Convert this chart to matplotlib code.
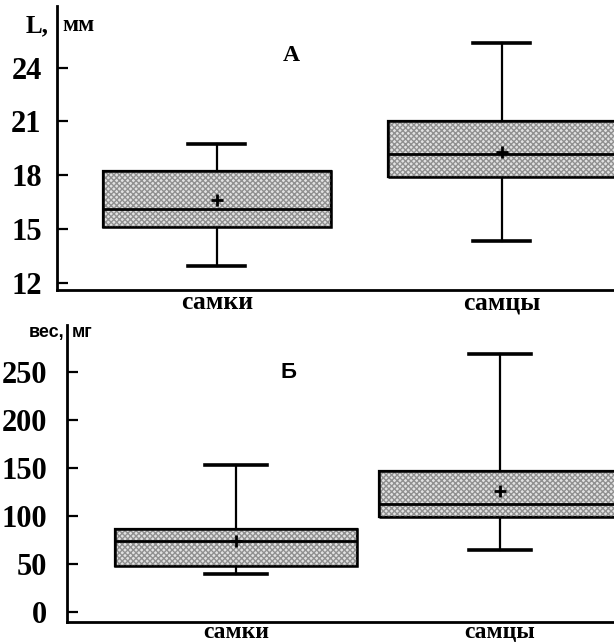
import matplotlib
matplotlib.use("Agg")
import matplotlib.pyplot as plt
from matplotlib.patches import PathPatch

groups = ["самки", "самцы"]

# panel A: length, mm
len_whislo = [12.94, 14.33]
len_q1 = [15.11, 17.89]
len_med = [16.11, 19.17]
len_q3 = [18.22, 21.0]
len_whishi = [19.72, 25.39]
len_mean = [16.61, 19.28]

# panel Б: weight, mg
w_whislo = [40, 64.6]
w_q1 = [48, 99]
w_med = [73.5, 112.5]
w_q3 = [86.5, 147]
w_whishi = [153, 268.8]
w_mean = [74, 126]

SERIF = "Liberation Serif"
SANS = "Liberation Sans"


def stats(lo, q1, med, q3, hi, mean):
    return [dict(whislo=a, q1=b, med=c, q3=d, whishi=e, mean=f, fliers=[])
            for a, b, c, d, e, f in zip(lo, q1, med, q3, hi, mean)]


def panel(ax, st, width, capw, ylim, yticks, tickpad, xfs, xpad):
    bp = ax.bxp(st, positions=[1, 2], widths=width, capwidths=capw,
                patch_artist=True, showmeans=True, showfliers=False,
                boxprops=dict(facecolor="#e2e2e2", edgecolor="black", linewidth=1.6),
                medianprops=dict(color="black", linewidth=2.0, zorder=4),
                whiskerprops=dict(color="black", linewidth=1.6),
                capprops=dict(color="black", linewidth=2.6),
                meanprops=dict(marker="+", markersize=9, markeredgewidth=2.0,
                               markeredgecolor="black", zorder=5))
    for box in bp["boxes"]:
        ax.add_patch(PathPatch(box.get_path(), facecolor="none", edgecolor="#909090",
                               hatch="xxxxxx", lw=0, zorder=2.5))
        ax.add_patch(PathPatch(box.get_path(), facecolor="none", edgecolor="black",
                               lw=1.8, zorder=3))
    ax.set_ylim(*ylim)
    ax.set_yticks(yticks)
    for s in ("top", "right"):
        ax.spines[s].set_visible(False)
    for s in ("left", "bottom"):
        ax.spines[s].set_linewidth(2.0)
    ax.tick_params(axis="y", direction="in", length=8, width=1.6, pad=tickpad)
    ax.tick_params(axis="x", length=0, pad=xpad)
    ax.set_xticks([1, 2])
    ax.set_xticklabels(groups, fontfamily=SERIF, fontweight="bold", fontsize=xfs)
    for t in ax.get_yticklabels():
        t.set_fontfamily(SERIF)
        t.set_fontweight("bold")
        t.set_fontsize(22)


fig = plt.figure(figsize=(6.14, 6.43), dpi=100)

ax1 = fig.add_axes([0.0928, 0.549, 0.9072, 0.442])
panel(ax1, stats(len_whislo, len_q1, len_med, len_q3, len_whishi, len_mean),
      0.8, 0.2, (11.61, 27.44), [12, 15, 18, 21, 24], 11, 18.5, 1)
ax1.set_xlim(0.439, 2.393)
ax1.text(1.26, 24.67, "A", fontfamily=SERIF, fontweight="bold", fontsize=17,
         ha="center", va="center")
ax1.text(-0.015, 0.93, "L,", transform=ax1.transAxes, ha="right", va="center",
         fontfamily=SERIF, fontweight="bold", fontsize=18)
ax1.text(0.01, 0.93, "мм", transform=ax1.transAxes, ha="left", va="center",
         fontfamily=SERIF, fontweight="bold", fontsize=17)

ax2 = fig.add_axes([0.109, 0.0327, 0.891, 0.462])
panel(ax2, stats(w_whislo, w_q1, w_med, w_q3, w_whishi, w_mean),
      0.917, 0.235, (-10.4, 299), [0, 50, 100, 150, 200, 250], 14, 17, 0)
ax2.set_xlim(0.36, 2.432)
ax2.text(1.2, 249, "Б", fontfamily=SANS, fontweight="bold", fontsize=16,
         ha="center", va="center")
ax2.text(-0.005, 0.973, "вес,", transform=ax2.transAxes, ha="right", va="center",
         fontfamily=SANS, fontweight="bold", fontsize=13)
ax2.text(0.008, 0.973, "мг", transform=ax2.transAxes, ha="left", va="center",
         fontfamily=SANS, fontweight="bold", fontsize=13)

fig.savefig("out.png", dpi=100)
